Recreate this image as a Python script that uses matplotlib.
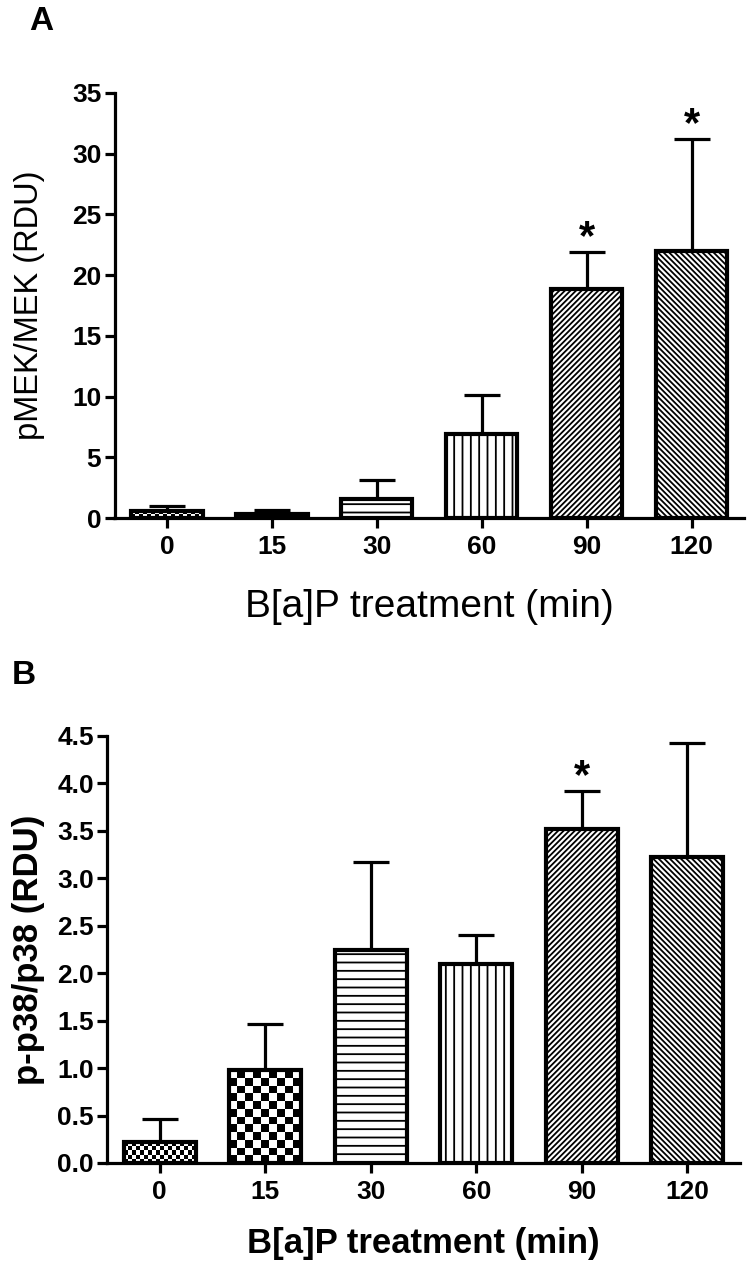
import numpy as np
import matplotlib
matplotlib.use("Agg")
import matplotlib.pyplot as plt

plt.rcParams['font.family'] = ['Liberation Sans', 'DejaVu Sans']
plt.rcParams['hatch.linewidth'] = 1.3
plt.rcParams['hatch.color'] = 'black'

# data
times = ['0', '15', '30', '60', '90', '120']
mek_mean = [0.6, 0.35, 1.6, 6.9, 18.9, 22.0]
mek_err = [0.4, 0.35, 1.5, 3.2, 3.0, 9.2]
mek_sig = [False, False, False, False, True, True]

p38_mean = [0.22, 0.98, 2.24, 2.10, 3.52, 3.22]
p38_err = [0.24, 0.48, 0.93, 0.30, 0.40, 1.21]
p38_sig = [False, False, False, False, True, False]

# fill style per time point
fills = ['check_fine', 'check_coarse', '--', '||', '//////', '\\\\\\\\\\\\']
check_px = {'check_fine': 4, 'check_coarse': 8}

W, H = 750, 1268
BAR_W = 0.68


def checker(ax, bar, cell):
    # checkerboard fill clipped to the bar
    x0, y0 = bar.get_x(), bar.get_y()
    x1, y1 = x0 + bar.get_width(), y0 + bar.get_height()
    p0 = ax.transData.transform((x0, y0))
    p1 = ax.transData.transform((x1, y1))
    nx = max(1, int(round(abs(p1[0] - p0[0]) / cell)))
    ny = max(1, int(round(abs(p1[1] - p0[1]) / cell)))
    img = (np.indices((ny, nx)).sum(axis=0) % 2).astype(float)
    im = ax.imshow(img, cmap='gray', extent=(x0, x1, y0, y1), origin='lower',
                   aspect='auto', interpolation='nearest', zorder=2)
    im.set_clip_path(bar)


def panel(rect, means, errs, sig, ymax, yticks, yfmt, ylabel, xlabel,
          xl_weight, xl_size, yl_weight, yl_size, ylab_x, xlab_y, letter, letter_xy):
    ax = fig.add_axes(rect)
    x = np.arange(len(times))
    ax.set_xlim(-0.5, 5.5)
    ax.set_ylim(0, ymax)
    ax.errorbar(x, means, yerr=[np.zeros(len(errs)), errs], fmt='none',
                ecolor='black', elinewidth=2.3, capsize=13, capthick=2.3, zorder=1)
    bars = ax.bar(x, means, width=BAR_W, color='white', edgecolor='black',
                  linewidth=3, zorder=3)
    for b, f in zip(bars, fills):
        if f.startswith('check'):
            b.set_facecolor('none')
            bg = plt.Rectangle((b.get_x(), 0), b.get_width(), b.get_height(),
                               facecolor='white', edgecolor='none', zorder=2)
            ax.add_patch(bg)
            checker(ax, bg, check_px[f])
        else:
            b.set_hatch(f)
    ax.set_xlim(-0.5, 5.5)
    ax.set_ylim(0, ymax)
    for i, s in enumerate(sig):
        if s:
            ax.annotate('*', xy=(i, means[i] + errs[i]), xytext=(0, -4),
                        textcoords='offset points', ha='center', va='bottom',
                        fontsize=30, fontweight='bold')
    ax.spines['top'].set_visible(False)
    ax.spines['right'].set_visible(False)
    ax.spines['left'].set_linewidth(2.3)
    ax.spines['bottom'].set_linewidth(2.3)
    ax.set_xticks(x)
    ax.set_xticklabels(times)
    ax.set_yticks(yticks)
    ax.set_yticklabels([yfmt.format(v) for v in yticks])
    ax.tick_params(axis='both', width=2.3, length=7, labelsize=19, pad=2.5)
    ax.tick_params(axis='x', pad=5)
    for t in ax.get_xticklabels() + ax.get_yticklabels():
        t.set_fontweight('bold')
    ax.set_xlabel(xlabel, fontsize=xl_size, fontweight=xl_weight, va='center')
    ax.set_ylabel(ylabel, fontsize=yl_size, fontweight=yl_weight, va='center')
    ax.xaxis.set_label_coords(0.5, xlab_y)
    ax.yaxis.set_label_coords(ylab_x, 0.5)
    fig.text(letter_xy[0] / W, 1 - letter_xy[1] / H, letter, fontsize=24,
             fontweight='bold', ha='center', va='center')
    return ax


fig = plt.figure(figsize=(W / 100, H / 100), dpi=100)

panel([114.5 / W, 1 - 518 / H, 629.5 / W, (518 - 93) / H],
      mek_mean, mek_err, mek_sig, 35, np.arange(0, 36, 5), '{:d}',
      'pMEK/MEK (RDU)', 'B[a]P treatment (min)', 'normal', 28, 'normal', 23.5,
      (30 - 114.5) / 629.5, (518 - 607) / 425, 'A', (41, 22))

panel([107 / W, 1 - 1163 / H, 633 / W, (1163 - 736) / H],
      p38_mean, p38_err, p38_sig, 4.5, np.round(np.arange(0, 4.51, 0.5), 1), '{:.1f}',
      'p-p38/p38 (RDU)', 'B[a]P treatment (min)', 'bold', 25, 'bold', 25,
      (28 - 107) / 633, (1163 - 1243) / 427, 'B', (24, 675))

fig.savefig('out.png', dpi=100)
